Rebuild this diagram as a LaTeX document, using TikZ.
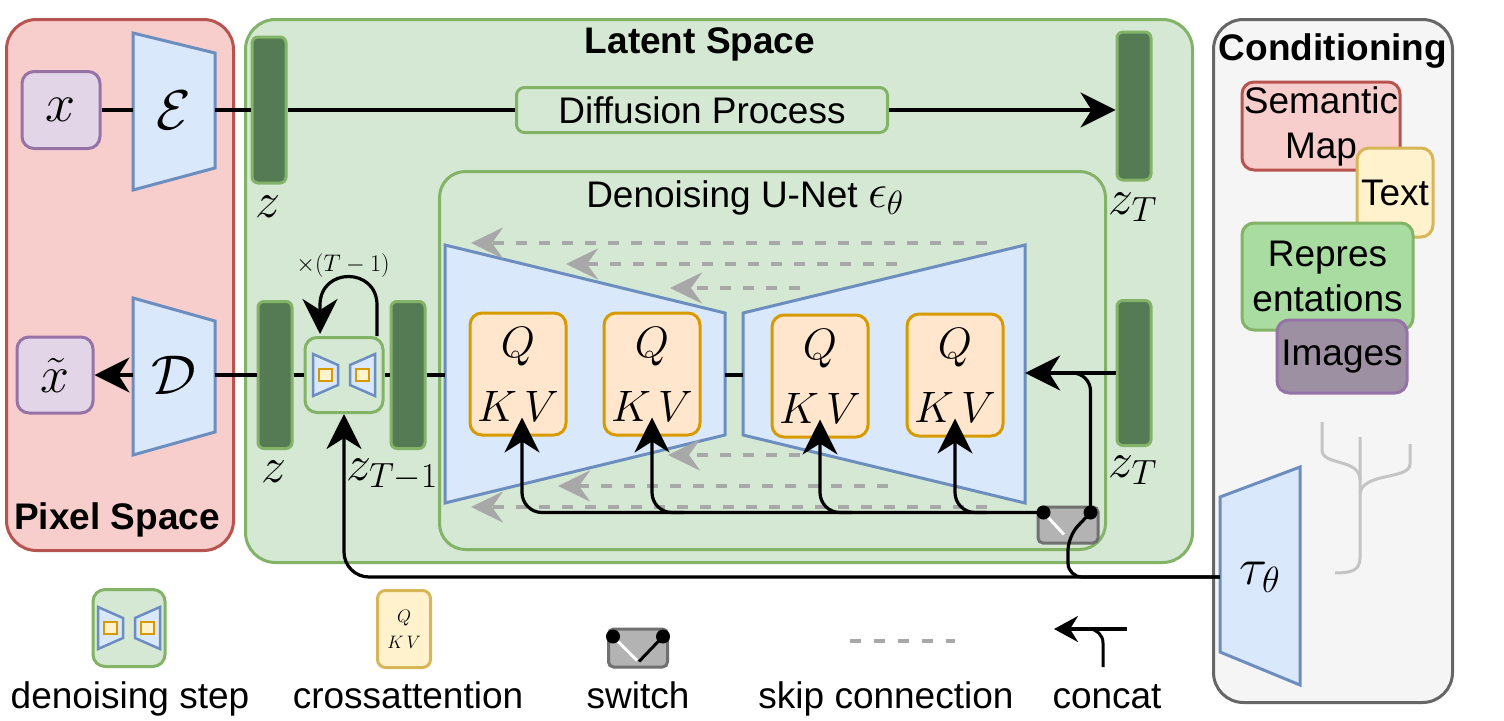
\RequirePackage{fix-cm}
\documentclass[tikz,border=0pt]{standalone}
\usepackage[no-math]{fontspec}
\setmainfont{Liberation Sans}
\usetikzlibrary{arrows.meta,calc}
\definecolor{pinkF}{HTML}{F8CECC}
\definecolor{pinkD}{HTML}{B85450}
\definecolor{greenF}{HTML}{D5E8D4}
\definecolor{greenD}{HTML}{82B366}
\definecolor{barG}{HTML}{547B54}
\definecolor{blueF}{HTML}{DAE8FC}
\definecolor{blueD}{HTML}{6C8EBF}
\definecolor{orangeF}{HTML}{FFE6CC}
\definecolor{orangeD}{HTML}{D79B00}
\definecolor{purpF}{HTML}{E1D5E7}
\definecolor{purpD}{HTML}{9673A6}
\definecolor{yelF}{HTML}{FFF2CC}
\definecolor{yelD}{HTML}{D6B656}
\definecolor{condF}{HTML}{F5F5F5}
\definecolor{condD}{HTML}{666666}
\definecolor{reprF}{HTML}{A9DCA0}
\definecolor{imgF}{HTML}{9D90A2}
\definecolor{swF}{HTML}{B3B3B3}
\definecolor{swD}{HTML}{707070}
\definecolor{skipG}{HTML}{A8A8A8}
\definecolor{treeG}{HTML}{C4C4C4}
\newcommand{\fsz}[1]{\fontsize{#1}{#1}\selectfont}
\begin{document}
\begin{tikzpicture}[x=1pt,y=-1pt,
 lab/.style={font=\fontsize{37}{45}\selectfont, inner sep=0pt, align=center},
 ttl/.style={font=\fontsize{37}{45}\selectfont\bfseries, inner sep=0pt, anchor=base},
 mth/.style={font=\fsz{#1}, inner sep=0pt},
 region/.style={line width=3pt, rounded corners=30pt, inner sep=0pt, anchor=north west},
 rbox/.style={line width=3pt, rounded corners=12pt, inner sep=0pt},
 bar/.style={draw=greenD, fill=barG, line width=3pt, rounded corners=6pt, minimum width=34pt, inner sep=0pt},
 trap/.style={draw=blueD, fill=blueF, line width=3pt, line join=miter},
 hold/.style={inner sep=0pt, minimum width=#1},
 qkv/.style={rbox, draw=orangeD, fill=orangeF, minimum width=96pt, minimum height=122pt, font=\fontsize{44}{64}\selectfont, align=center},
 conn/.style={draw=black, line width=3.2pt},
 arr/.style={conn, -{Stealth[length=35pt,width=35pt,inset=11pt]}},
 sarr/.style={conn, -{Stealth[length=24pt,width=26pt,inset=8pt]}},
 skip/.style={draw=skipG, line width=4pt, dash pattern=on 11pt off 12pt, -{Stealth[length=32pt,width=31pt,inset=11pt]}},
 skipl/.style={draw=skipG, line width=4pt, dash pattern=on 11pt off 13pt},
 tree/.style={draw=treeG, line width=3pt},
 stepbox/.style={rbox, draw=greenD, fill=greenF},
 swbox/.style={rbox, rounded corners=5pt, draw=swD, fill=swF},
 bowtie/.pic={
   \draw[trap, line width=2.5pt] (-31,-21) -- (-6,-10) -- (-6,10) -- (-31,21) -- cycle;
   \draw[trap, line width=2.5pt] (31,-21) -- (6,-10) -- (6,10) -- (31,21) -- cycle;
   \draw[draw=orangeD, fill=yelF, line width=2.5pt] (-25,-6) rectangle (-12,6);
   \draw[draw=orangeD, fill=yelF, line width=2.5pt] (12,-6) rectangle (25,6);
 }
]
\fill[white] (0,0) rectangle (1504,720);
\useasboundingbox (0,0) rectangle (1504,720);

% regions
\node[region, draw=pinkD, fill=pinkF, minimum width=227pt, minimum height=531pt] (pix) at (5,18) {};
\node[region, draw=greenD, fill=greenF, minimum width=947pt, minimum height=543pt] (lat) at (244,18) {};
\node[region, draw=condD, fill=condF, minimum width=239pt, minimum height=683pt] (cond) at (1212,18) {};
\node[region, rounded corners=26pt, draw=greenD, fill=greenF, minimum width=666pt, minimum height=378pt] (unetbox) at (438,170) {};

% titles
\node[ttl] (latT) at (700,53) {Latent Space};
\node[ttl] (condT) at (1333,60) {Conditioning};
\node[ttl] (pixT) at (117,529) {Pixel Space};
\node[lab, anchor=base] (unetT) at (745,207) {Denoising U-Net {\fsz{48}$\epsilon_\theta$}};

% pixel space
\node[rbox, draw=purpD, fill=purpF, minimum width=78pt, minimum height=77pt, mth=54] (xin) at (61,110) {$x$};
\draw[trap] (133,33) -- (215,53) -- (215,168) -- (133,190) -- cycle;
\node[hold=82pt, minimum height=110pt, mth=56] (enc) at (174,110) {$\mathcal{E}$};
\node[rbox, draw=purpD, fill=purpF, minimum width=76pt, minimum height=76pt, mth=52] (xt) at (55,375) {$\tilde{x}$};
\draw[trap] (133,298) -- (215,321) -- (215,432) -- (133,455) -- cycle;
\node[hold=82pt, minimum height=110pt, mth=56] (dec) at (174,375) {$\mathcal{D}$};

% latent top row
\node[bar, minimum height=146pt] (z1) at (269,110) {};
\node[mth=50, anchor=base] (z1l) at (268,217) {$z$};
\node[rbox, rounded corners=8pt, draw=greenD, fill=greenF, minimum width=371pt, minimum height=45pt, lab] (diff) at (702,110) {Diffusion Process};
\node[bar, minimum height=148pt] (zTa) at (1134,106) {};
\node[mth=50, anchor=base] (zTal) at (1133,214) {$z_T$};

% latent bottom row
\node[bar, minimum height=147pt] (z2) at (275,375) {};
\node[mth=50, anchor=base] (z2l) at (274,482) {$z$};
\node[stepbox, minimum width=78pt, minimum height=75pt] (step) at (344,375) {};
\pic at (step.center) {bowtie};
\node[bar, minimum height=147pt] (zT1) at (408,375) {};
\node[mth=50, anchor=base] (zT1l) at (392,480) {$z_{T-1}$};
\node[mth=24] (loopl) at (343,265) {$\times(T-1)$};

% U-Net
\draw[trap] (445,245) -- (725,313) -- (725,435) -- (445,503) -- cycle;
\draw[trap] (743,313) -- (1025,245) -- (1025,503) -- (743,435) -- cycle;
\node[hold=280pt, minimum height=100pt] (uL) at (585,375) {};
\node[hold=282pt, minimum height=100pt] (uR) at (884,375) {};

% skip connections
\coordinate (k1a) at (987,243); \coordinate (k1b) at (471,243);
\coordinate (k2a) at (897,264); \coordinate (k2b) at (566,264);
\coordinate (k3a) at (800,288); \coordinate (k3b) at (670,288);
\coordinate (k4a) at (800,455); \coordinate (k4b) at (668,455);
\coordinate (k5a) at (888,486); \coordinate (k5b) at (558,486);
\coordinate (k6a) at (987,507); \coordinate (k6b) at (471,507);
\foreach \k in {1,...,6} \draw[skip] (k\k a) -- (k\k b);

\node[qkv] (q1) at (518,374) {$Q$\\$K\,V$};
\node[qkv] (q2) at (652,374) {$Q$\\$K\,V$};
\node[qkv] (q3) at (820,376) {$Q$\\$K\,V$};
\node[qkv] (q4) at (955,375) {$Q$\\$K\,V$};

\node[bar, minimum height=145pt] (zT2) at (1134,373) {};
\node[mth=50, anchor=base] (zT2l) at (1133,477) {$z_T$};

\node[swbox, minimum width=60pt, minimum height=36pt] (sw) at (1068,525) {};

% conditioning
\node[rbox, draw=pinkD, fill=pinkF, minimum width=158pt, minimum height=88pt, lab] (sem) at (1321,126) {Semantic\\Map};
\node[rbox, draw=yelD, fill=yelF, minimum width=76pt, minimum height=89pt, lab] (txt) at (1395,192.5) {Text};
\node[rbox, draw=greenD, fill=reprF, minimum width=171pt, minimum height=107pt, lab] (rep) at (1327.5,276.5) {Repres\\entations};
\node[rbox, draw=purpD, fill=imgF, minimum width=130pt, minimum height=73pt, lab] (img) at (1342,356.5) {Images};

\draw[tree] (1322,422) -- (1322,450) .. controls (1322,466) and (1360,458) .. (1360,480);
\draw[tree] (1360,437) -- (1360,558) .. controls (1360,570) and (1352,573) .. (1335,573);
\draw[tree] (1410,444) -- (1410,464) .. controls (1410,480) and (1362,472) .. (1360,494);

\draw[trap] (1220,497) -- (1300,467) -- (1300,685) -- (1220,652) -- cycle;
\node[hold=80pt, minimum height=150pt, mth=52] (tau) at (1260,577) {$\tau_\theta$};

% connectors
\draw[conn] (xin) -- (enc);
\draw[conn] (enc) -- (z1);
\draw[conn] (z1) -- (diff);
\draw[arr] (diff.east) -- (diff.east -| zTa.west);
\draw[arr] (dec) -- (xt);
\draw[conn] (z2) -- (dec);
\draw[conn] (z2) -- (step);
\draw[conn] (step) -- (zT1);
\draw[conn] (zT1) -- (uL);
\draw[conn] (uL) -- (uR);
\draw[arr] (zT2.west) -- (zT2.west -| uR.east);

\coordinate (swL) at ($(sw.north west)+(7,7)$);
\coordinate (swR) at ($(sw.north east)+(-9,7)$);
\coordinate (swB) at ($(sw.south)+(0,-8)$);
\draw[white, line width=3pt] (swL) -- ($(sw.south)+(-4,-10)$);
\draw[conn, rounded corners=14pt] (swR) -- (swB) |- (tau.west);
\draw[arr, rounded corners=25pt] (tau.west) -| (step.south);
\draw[conn, rounded corners=18pt] (swR) |- ($(zT2.west -| uR.east)+(38,0)$);
\draw[arr, rounded corners=20pt] (swL) -| ($(q1.south)+(4,-19)$);
\foreach \q in {q2,q3,q4} \draw[arr, rounded corners=20pt] ($(swL -| \q.south)+(32,0)$) -| ($(\q.south)+(0,-19)$);
\fill (swL) circle[radius=7pt];
\fill (swR) circle[radius=7pt];

\draw[arr] ($(step.north)+(33,0)$) -- ++(0,-31) .. controls +(0,-38) and +(0,-38) .. ++(-57,0) -- ++(0,29);

% legend
\node[stepbox, minimum width=72pt, minimum height=77pt] (lstep) at (129,628) {};
\pic at (lstep.center) {bowtie};
\node[lab, anchor=base] (lstepl) at (130,708) {denoising step};
\node[rbox, rounded corners=8pt, draw=yelD, fill=yelF, minimum width=53pt, minimum height=77pt, font=\fontsize{18}{26}\selectfont, align=center] (lqkv) at (404,629) {$Q$\\$K\,V$};
\node[lab, anchor=base] (lqkvl) at (408,708) {crossattention};
\node[swbox, minimum width=59pt, minimum height=38pt] (lsw) at (638,648) {};
\coordinate (lswL) at ($(lsw.north west)+(6,9)$);
\coordinate (lswR) at ($(lsw.north east)+(-6,9)$);
\coordinate (lswB) at ($(lsw.south)+(1,-7)$);
\draw[white, line width=3pt] (lswL) -- ($(lsw.south)+(-1,-8)$);
\draw[conn, line width=3pt] (lswR) -- (lswB);
\fill (lswL) circle[radius=7pt];
\fill (lswR) circle[radius=7pt];
\node[lab, anchor=base] (lswl) at (638,708) {switch};
\coordinate (lk1) at (850,641); \coordinate (lk2) at (955,641);
\draw[skipl] (lk1) -- (lk2);
\node[lab, anchor=base] (lkl) at (886,708) {skip connection};
\coordinate (lc1) at (1127,629); \coordinate (lc2) at (1054,629);
\draw[sarr] (lc1) -- (lc2);
\coordinate (lc3) at (1103,667); \coordinate (lc4) at (1085,629);
\draw[conn, line width=3pt, rounded corners=14pt] (lc3) |- (lc4);
\node[lab, anchor=base] (lcl) at (1107,708) {concat};
\end{tikzpicture}
\end{document}
